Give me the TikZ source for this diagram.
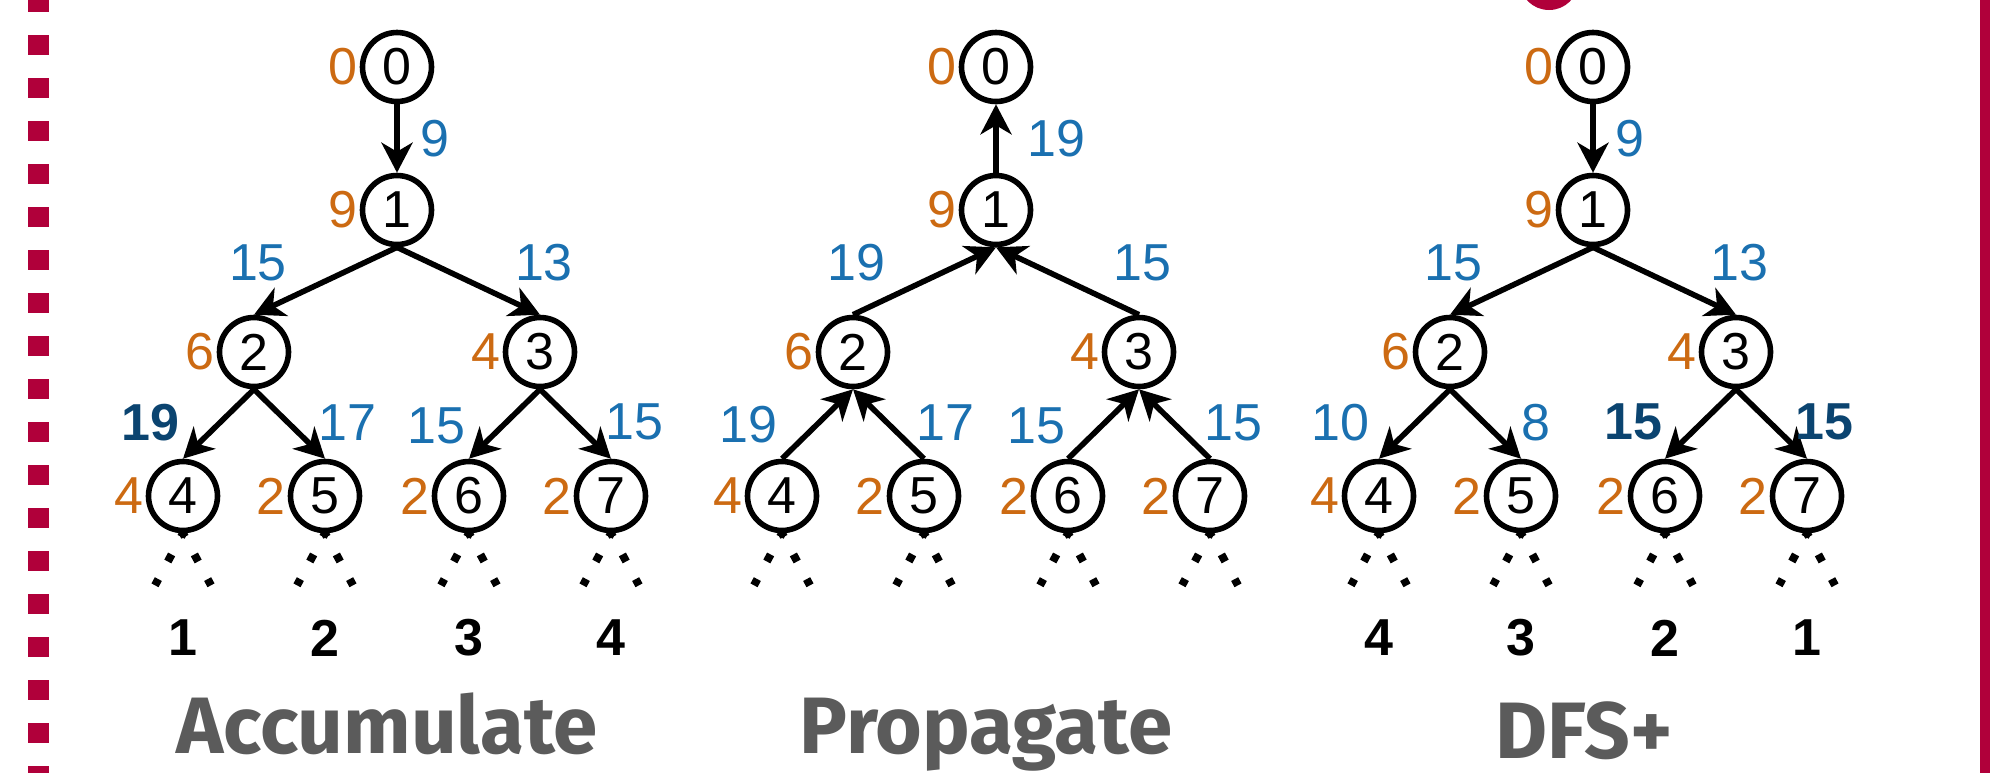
\documentclass[tikz,border=0pt]{standalone}
\usepackage{fontspec}
\setmainfont{Liberation Sans}
\newfontfamily\titlefont{Fira Sans}
\usetikzlibrary{calc,arrows.meta}

\definecolor{wcol}{HTML}{CC6A12}
\definecolor{ecol}{HTML}{1A70B0}
\definecolor{hcol}{HTML}{0B4470}
\definecolor{slidered}{HTML}{B0003A}
\definecolor{titlegrey}{HTML}{5B5B5B}

% eight vertices of one tree: #1 prefix, #2 root x
\newcommand{\vtree}[2]{%
\node (#1v0) [treenode,label={[wlab]left:0}] at (#2,67) {0};
\node (#1v1) [treenode,label={[wlab]left:9}] at ($(#1v0)+(0,143)$) {1};
\node (#1v2) [treenode,label={[wlab]left:6}] at ($(#1v1)+(-143,142)$) {2};
\node (#1v3) [treenode,label={[wlab]left:4}] at ($(#1v1)+(143,142)$) {3};
\foreach \u/\up/\dx/\lab in {4/v2/-71/4, 5/v2/71/2, 6/v3/-71/2, 7/v3/71/2}
  \node (#1v\u) [treenode,label={[wlab]left:\lab}] at ($(#1\up)+(\dx,144)$) {\u};
\foreach \u in {v4,v5,v6,v7} {
  \draw[leafdots] (#1\u.south) -- ++(-28,52);
  \draw[leafdots] (#1\u.south) -- ++(28,52);
}
}

\begin{document}
\begin{tikzpicture}[x=0.5pt,y=-0.5pt]

\tikzset{treenode/.style={circle,draw,line width=2.8pt,minimum size=34.5pt,inner sep=0pt,
  font=\fontsize{26}{26}\selectfont},
wlab/.style={text=wcol,inner sep=0pt,font=\fontsize{26}{26}\selectfont},
elab/.style={text=ecol,inner sep=0pt,font=\fontsize{26}{26}\selectfont},
hlab/.style={text=hcol,inner sep=0pt,font=\fontsize{26}{26}\selectfont\bfseries},
order/.style={inner sep=0pt,font=\fontsize{26}{26}\selectfont\bfseries},
treeedge/.style={line width=2.8pt,-{Stealth[length=15pt,width=15.5pt,inset=4.5pt]}},
leafdots/.style={line width=4pt,dash pattern=on 4pt off 10pt,dash phase=2pt},
caption/.style={anchor=base,inner sep=0pt,text=titlegrey,font=\titlefont\bfseries\fontsize{40}{40}\selectfont},
every label/.style={label distance=1pt}}

\useasboundingbox (0,0) rectangle (1990,773);

% Slide frame
\draw[slidered,line width=10.5pt,dash pattern=on 10pt off 11.5pt,dash phase=4pt] (38,0) -- (38,773);
\fill[slidered] (1980,0) rectangle (2000,773);
\fill[slidered] (1549,-18) ellipse (29 and 28);

% Accumulate tree
\vtree{a}{397}
\foreach \p/\c in {v0/v1, v1/v2, v1/v3, v2/v4, v2/v5, v3/v6, v3/v7}
  \draw[treeedge] (a\p.south) -- (a\c.north);
\node[elab,anchor=west] at ($(av0)!0.5!(av1)+(23,0)$) {9};
\node[elab] at ($(av2)+(4,-89)$) {15};
\node[elab] at ($(av3)+(4,-89)$) {13};
\node[hlab,anchor=east] at ($(av4)+(-3,-73)$) {19};
\node[elab,anchor=west] at ($(av5)+(-7,-73)$) {17};
\node[elab,anchor=east] at ($(av6)+(-3,-70)$) {15};
\node[elab,anchor=west] at ($(av7)+(-6,-74)$) {15};
\foreach \u/\lab in {av4/1, av5/2, av6/3, av7/4} \node[order] at ($(\u)+(0,142)$) {\lab};
\node[caption] at (387,753) {Accumulate};

% Propagate tree
\vtree{p}{996}
\foreach \p/\c in {v0/v1, v1/v2, v1/v3, v2/v4, v2/v5, v3/v6, v3/v7}
  \draw[treeedge] (p\c.north) -- (p\p.south);
\node[elab,anchor=west] at ($(pv0)!0.5!(pv1)+(31,0)$) {19};
\node[elab] at ($(pv2)+(3,-89)$) {19};
\node[elab] at ($(pv3)+(3,-89)$) {15};
\node[elab,anchor=east] at ($(pv4)+(-4,-71)$) {19};
\node[elab,anchor=west] at ($(pv5)+(-8,-73)$) {17};
\node[elab,anchor=east] at ($(pv6)+(-2,-70)$) {15};
\node[elab,anchor=west] at ($(pv7)+(-6,-73)$) {15};
\node[caption] at (986,753) {Propagate};

% DFS+ tree
\vtree{d}{1593}
\foreach \p/\c in {v0/v1, v1/v2, v1/v3, v2/v4, v2/v5, v3/v6, v3/v7}
  \draw[treeedge] (d\p.south) -- (d\c.north);
\node[elab,anchor=west] at ($(dv0)!0.5!(dv1)+(22,0)$) {9};
\node[elab] at ($(dv2)+(3,-89)$) {15};
\node[elab] at ($(dv3)+(3,-89)$) {13};
\node[elab,anchor=east] at ($(dv4)+(-9,-73)$) {10};
\node[elab,anchor=west] at ($(dv5)+(0,-73)$) {8};
\node[hlab,anchor=east] at ($(dv6)+(-2,-74)$) {15};
\node[hlab,anchor=west] at ($(dv7)+(-12,-74)$) {15};
\foreach \u/\lab in {dv4/4, dv5/3, dv6/2, dv7/1} \node[order] at ($(\u)+(0,142)$) {\lab};
\node[caption] at (1584,758) {DFS+};

\end{tikzpicture}
\end{document}
